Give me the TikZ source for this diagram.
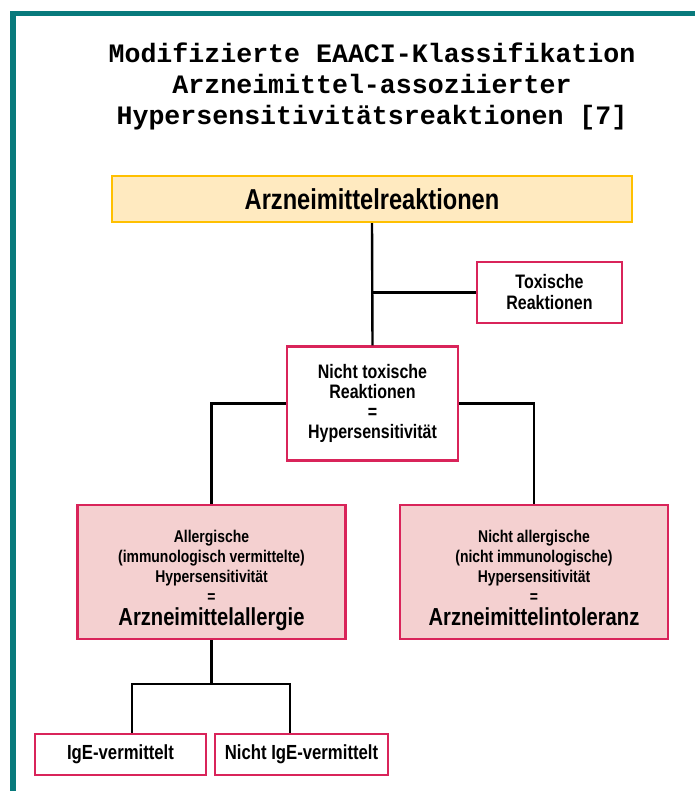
\documentclass[tikz,border=0pt]{standalone}
\usepackage{fontspec}
\newfontfamily\narrowsans[FakeStretch=0.82]{Liberation Sans}
\newfontfamily\typewriter{Liberation Mono}
\definecolor{tealbar}{RGB}{8,122,124}
\definecolor{topfill}{RGB}{255,234,192}
\definecolor{topdraw}{RGB}{255,192,0}
\definecolor{redfill}{RGB}{244,208,208}
\definecolor{reddraw}{RGB}{217,36,90}
\tikzset{
  box/.style={draw=reddraw, line width=2.4pt, fill=white, rectangle, inner sep=0pt, align=center, text=black},
  pinkbox/.style={box, fill=redfill},
  topbox/.style={draw=topdraw, line width=2.4pt, fill=topfill, rectangle, inner sep=0pt, align=center},
  conn/.style={draw=black, line width=2.4pt},
}
\begin{document}
\begin{tikzpicture}[x=1pt,y=-1pt]
\useasboundingbox (0,0) rectangle (695,791);
\fill[white] (0,0) rectangle (695,791);
% teal frame
\fill[tealbar] (10,11) rectangle (695,16);
\fill[tealbar] (10,11) rectangle (16,791);
% title
\node[align=center, inner sep=0pt, font=\typewriter\bfseries\fontsize{26.6}{31}\selectfont] (title) at (372,86)
  {Modifizierte EAACI-Klassifikation\\Arzneimittel-assoziierter\\Hypersensitivitätsreaktionen [7]};
% nodes
\node[topbox, minimum width=520pt, minimum height=46pt, font=\narrowsans\bfseries\fontsize{28.8}{32}\selectfont] (top) at (372,199) {Arzneimittelreaktionen};
\node[box, minimum width=145pt, minimum height=61pt, font=\narrowsans\bfseries\fontsize{19.5}{21}\selectfont] (tox) at (549.5,292.5) {Toxische\\Reaktionen};
\node[box, minimum width=171pt, minimum height=114pt, font=\narrowsans\bfseries\fontsize{19.5}{20}\selectfont] (nt) at (372.5,403.5) {Nicht toxische\\Reaktionen\\=\\Hypersensitivität};
\node[pinkbox, minimum width=268pt, minimum height=134pt, font=\narrowsans\bfseries\fontsize{17}{20}\selectfont] (all) at (211.5,572)
  {\rule{0pt}{30pt}Allergische\\(immunologisch vermittelte)\\Hypersensitivität\\=\\[3pt]{\fontsize{24.6}{20}\selectfont Arzneimittelallergie}};
\node[pinkbox, minimum width=268pt, minimum height=134pt, font=\narrowsans\bfseries\fontsize{17}{20}\selectfont] (intol) at (534,572)
  {\rule{0pt}{30pt}Nicht allergische\\(nicht immunologische)\\Hypersensitivität\\=\\[3pt]{\fontsize{24.6}{20}\selectfont Arzneimittelintoleranz\vphantom{g}}};
\node[box, minimum width=171pt, minimum height=41pt, font=\narrowsans\bfseries\fontsize{20.4}{22}\selectfont] (ige) at (120.5,754.5) {IgE-vermittelt};
\node[box, minimum width=173pt, minimum height=41pt, font=\narrowsans\bfseries\fontsize{20.4}{22}\selectfont] (nige) at (301.5,754.5) {Nicht IgE-vermittelt};
% connectors
\coordinate (jl) at (132,684);
\coordinate (jr) at (290,684);
\draw[conn] (top.south) -- (nt.north);
\draw[conn] (top.south |- tox.west) -- (tox.west);
\draw[conn] (nt.west) -| (all.north);
\draw[conn] (nt.east) -| (intol.north);
\draw[conn] (all.south) -- (all.south |- jl);
\draw[conn] (jl |- ige.north) -- (jl) -- (jr) -- (jr |- nige.north);
\end{tikzpicture}
\end{document}
